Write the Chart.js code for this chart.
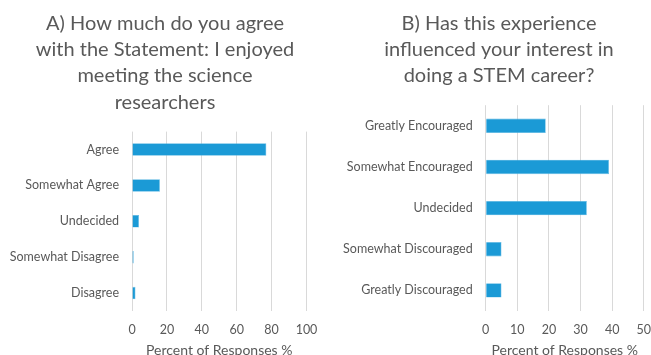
<!DOCTYPE html>
<html>
<head>
<meta charset="utf-8">
<script src="https://cdn.jsdelivr.net/npm/chart.js@4.4.0/dist/chart.umd.min.js"></script>
<style>
  html, body { margin: 0; padding: 0; background: #fff; overflow: hidden; width: 651px; height: 355px; }
  .box { position: absolute; top: 0; height: 365px; }
  #boxA { left: 0; width: 330px; }
  #boxB { left: 336px; width: 326px; }
</style>
</head>
<body>
<div class="box" id="boxA"><canvas id="chartA"></canvas></div>
<div class="box" id="boxB"><canvas id="chartB"></canvas></div>
<script>
const titleA = ["A) How much do you agree", "with the Statement: I enjoyed", "meeting the science", "researchers"];
const categoriesA = ["Agree", "Somewhat Agree", "Undecided", "Somewhat Disagree", "Disagree"];
const valuesA = [77, 16, 4, 1, 2];
const ticksA = [0, 20, 40, 60, 80, 100];

const titleB = ["B) Has this experience", "influenced your interest in", "doing a STEM career?"];
const categoriesB = ["Greatly Encouraged", "Somewhat Encouraged", "Undecided", "Somewhat Discouraged", "Greatly Discouraged"];
const valuesB = [19, 39, 32, 5, 5];
const ticksB = [0, 10, 20, 30, 40, 50];

const axisTitle = "Percent of Responses %";

const FONT = "Lato, 'Open Sans', sans-serif";
const TEXT = "#595959";
const GRID = "#D9D9D9";
const BAR = "#1B9AD6";

function makeChart(id, title, cats, vals, ticks, yWidth, rightWidth) {
  const maxV = ticks[ticks.length - 1];
  const step = ticks[1] - ticks[0];
  return new Chart(document.getElementById(id), {
    type: 'bar',
    data: {
      labels: cats,
      datasets: [{
        data: vals,
        backgroundColor: BAR,
        borderColor: '#5DB8E4',
        borderWidth: 0.6,
        categoryPercentage: 1.0,
        barPercentage: 0.35
      }]
    },
    options: {
      indexAxis: 'y',
      responsive: true,
      maintainAspectRatio: false,
      animation: false,
      devicePixelRatio: 1,
      layout: { padding: 0 },
      plugins: {
        legend: { display: false },
        tooltip: { enabled: false },
        title: {
          display: true,
          text: title,
          color: TEXT,
          font: { family: FONT, size: 20, weight: 'normal', lineHeight: 1.32 },
          padding: { top: 10, bottom: 16 }
        }
      },
      scales: {
        x: {
          min: 0, max: maxV,
          ticks: { stepSize: step, color: TEXT, font: { family: FONT, size: 12.5 }, padding: 11 },
          grid: { color: GRID, lineWidth: 1, drawTicks: false },
          border: { display: false },
          title: { display: true, text: axisTitle, color: TEXT, font: { family: FONT, size: 14 }, padding: { top: 0, bottom: 6 } },
          afterFit: (s) => { s.height = 54; }
        },
        y: {
          ticks: { color: TEXT, font: { family: FONT, size: 12.5 }, padding: 13 },
          grid: { display: false, drawTicks: false },
          border: { display: false },
          afterFit: (s) => { s.width = yWidth; }
        },
        yR: {
          position: 'right',
          display: true,
          ticks: { display: false },
          grid: { display: false, drawTicks: false },
          border: { display: false },
          afterFit: (s) => { s.width = rightWidth; }
        }
      }
    }
  });
}

makeChart('chartA', titleA, categoriesA, valuesA, ticksA, 132, 23.5);
makeChart('chartB', titleB, categoriesB, valuesB, ticksB, 149.7, 17);
</script>
</body>
</html>
